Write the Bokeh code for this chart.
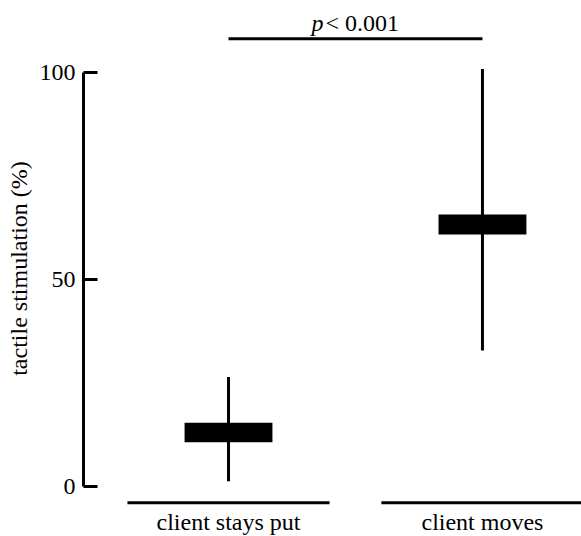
from bokeh.plotting import figure
from bokeh.models import Range1d, LinearAxis, FixedTicker, ColumnDataSource
from bokeh.core.properties import value
from bokeh.embed import file_html
from bokeh.resources import INLINE

# ---- data ----
categories = ["client stays put", "client moves"]
whisker_low = [1.4, 32.9]
whisker_high = [26.5, 100.8]
box_bottom = [10.8, 60.9]
box_top = [15.5, 65.7]
y_ticks = [0, 50, 100]
y_label = "tactile stimulation (%)"
p_symbol = "p"
p_text = "< 0.001"

FONT = "Liberation Serif"
FS = "24px"

xs = list(range(len(categories)))

p = figure(width=581, height=536, output_backend="svg", toolbar_location=None,
           x_range=Range1d(-0.571, 1.390), y_range=Range1d(-11.94, 117.3),
           min_border_left=83, min_border_right=0, min_border_top=0, min_border_bottom=0,
           x_axis_location=None, y_axis_location=None)
p.outline_line_color = None
p.xgrid.visible = False
p.ygrid.visible = False
p.background_fill_color = "white"
p.border_fill_color = "white"

yaxis = LinearAxis(ticker=FixedTicker(ticks=y_ticks), bounds=(0, 100))
yaxis.axis_line_width = 3
yaxis.major_tick_line_width = 3
yaxis.major_tick_in = 14
yaxis.major_tick_out = 0
yaxis.minor_tick_line_color = None
yaxis.major_label_text_font = FONT
yaxis.major_label_text_font_size = FS
yaxis.major_label_text_color = "black"
yaxis.major_label_standoff = 8
yaxis.axis_label = y_label
yaxis.axis_label_text_font = FONT
yaxis.axis_label_text_font_size = FS
yaxis.axis_label_text_font_style = "normal"
yaxis.axis_label_text_color = "black"
yaxis.axis_label_standoff = 5
p.add_layout(yaxis, "left")

src = ColumnDataSource(dict(x=xs, cat=categories, lo=whisker_low, hi=whisker_high,
                            bb=box_bottom, bt=box_top))

# whiskers
p.segment(x0="x", y0="lo", x1="x", y1="hi", source=src, line_color="black", line_width=3)
# boxes
p.vbar(x="x", width=0.346, bottom="bb", top="bt", source=src,
       fill_color="black", line_color=None)

# category underlines and labels
UNDERLINE_Y = -3.8
LABEL_Y = -10.85
half = 0.398
p.segment(x0=[x - half for x in xs], y0=[UNDERLINE_Y] * len(xs),
          x1=[x + half for x in xs], y1=[UNDERLINE_Y] * len(xs),
          line_color="black", line_width=3)
p.text(x="x", y=LABEL_Y, text="cat", source=src, text_font=value(FONT),
       text_font_size=FS, text_align="center", text_baseline="alphabetic",
       y_offset=-10, text_color="black")

# significance bar
SIG_Y = 108.1
SIG_TEXT_Y = 110.3
p.segment(x0=[xs[0]], y0=[SIG_Y], x1=[xs[1]], y1=[SIG_Y], line_color="black", line_width=3)
mid = (xs[0] + xs[1]) / 2
p.text(x=[mid], y=[SIG_TEXT_Y], text=[p_symbol], text_font=value(FONT), text_font_size=FS,
       text_font_style="italic", text_align="right", text_baseline="alphabetic",
       x_offset=-32, y_offset=-7, text_color="black")
p.text(x=[mid], y=[SIG_TEXT_Y], text=[p_text], text_font=value(FONT), text_font_size=FS,
       text_align="left", text_baseline="alphabetic", x_offset=-30, y_offset=-7,
       text_color="black")

open("out.html", "w").write(file_html(p, INLINE))
